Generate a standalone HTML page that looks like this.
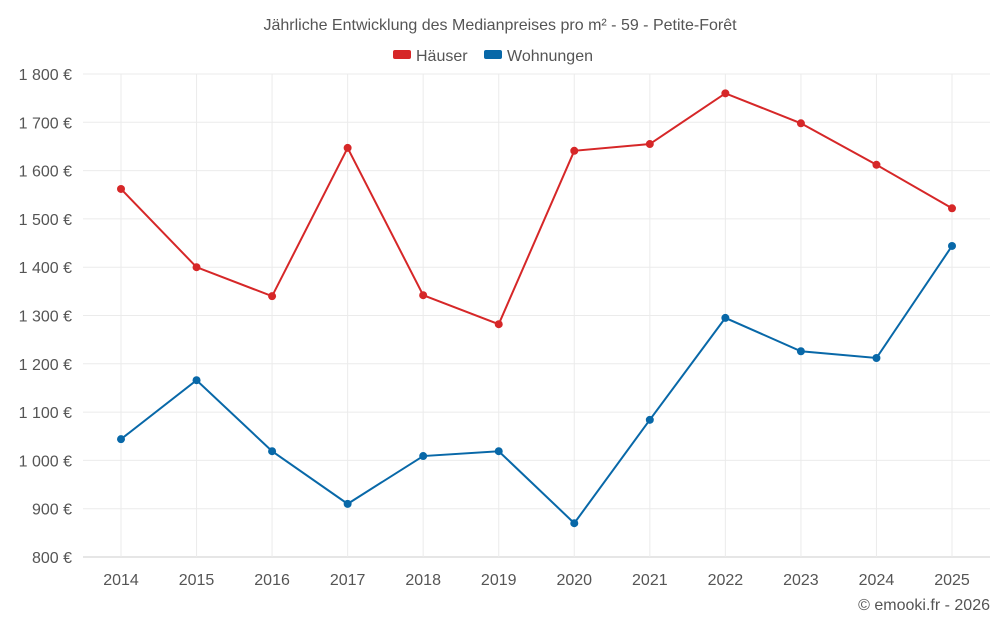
<!DOCTYPE html>
<html><head><meta charset="utf-8"><style>
body{margin:0;background:#fff;font-family:"Liberation Sans",sans-serif;}
</style></head><body>
<svg id="chart" width="1000" height="625" xmlns="http://www.w3.org/2000/svg" font-family="Liberation Sans, sans-serif">
<text x="500" y="30" text-anchor="middle" font-size="16" fill="#555">Jährliche Entwicklung des Medianpreises pro m² - 59 - Petite-Forêt</text>
<g>
<rect x="393" y="50" width="18" height="9" rx="2" fill="#d62728"/>
<text x="416" y="61" font-size="16" fill="#555">Häuser</text>
<rect x="484" y="50" width="18" height="9" rx="2" fill="#0868a8"/>
<text x="507" y="61" font-size="16" fill="#555">Wohnungen</text>
</g>
<g id="grid"></g><g id="axes"></g><g id="series"></g>
<text x="990" y="610" text-anchor="end" font-size="16" fill="#555">© emooki.fr - 2026</text>
</svg>
<script>
const years=["2014","2015","2016","2017","2018","2019","2020","2021","2022","2023","2024","2025"];
const haeuser=[1562,1400,1340,1647,1342,1282,1641,1655,1760,1698,1612,1522];
const wohnungen=[1044,1166,1019,910,1009,1019,870,1084,1295,1226,1212,1444];
const yTicks=[800,900,1000,1100,1200,1300,1400,1500,1600,1700,1800];
const ns="http://www.w3.org/2000/svg";
const x=i=>121+i*(952-121)/(years.length-1);
const y=v=>557-(v-800)*(557-74)/1000;
function mk(t,a,p){const e=document.createElementNS(ns,t);for(const k in a)e.setAttribute(k,a[k]);p.appendChild(e);return e;}
const g=document.getElementById('grid'),ax=document.getElementById('axes'),s=document.getElementById('series');
yTicks.forEach(v=>{
 const l=mk('line',{x1:83,x2:990,y1:y(v),y2:y(v),stroke:v==800?'#ccc':'#ebebeb'},g);
 
 
 const t=mk('text',{x:72,y:y(v)+6,'text-anchor':'end','font-size':16,fill:'#555'},ax);
 t.textContent=(v>=1000?Math.floor(v/1000)+' '+String(v%1000).padStart(3,'0'):v)+' €';
 
 
});
years.forEach((yr,i)=>{
 const l=mk('line',{x1:x(i),x2:x(i),y1:74,y2:557,stroke:'#ebebeb'},g);
 
 
 const t=mk('text',{x:x(i),y:585,'text-anchor':'middle','font-size':16,fill:'#555'},ax);
 t.textContent=yr;
 
 
});
[[haeuser,'#d62728','haeuser'],[wohnungen,'#0868a8','wohnungen']].forEach(([d,c,n])=>{
 const p=mk('polyline',{points:d.map((v,i)=>x(i)+','+y(v)).join(' '),fill:'none',stroke:c,'stroke-width':2},s);
 
 
 d.forEach((v,i)=>{
  const ci=mk('circle',{cx:x(i),cy:y(v),r:4,fill:c},s);
  
  
 });
});
</script>
</body></html>
